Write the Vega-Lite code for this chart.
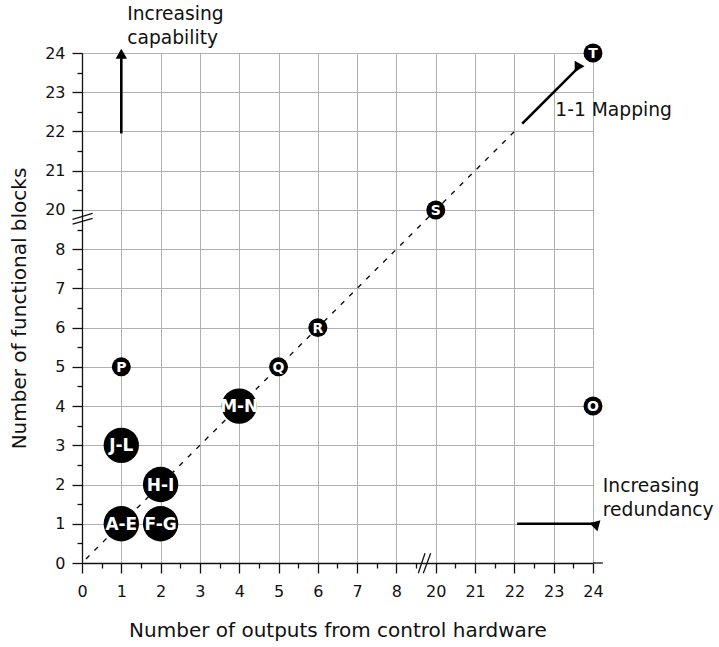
{
  "$schema": "https://vega.github.io/schema/vega-lite/v6.json",
  "width": 511,
  "height": 510,
  "autosize": {"type": "none"},
  "padding": {"left": 82, "top": 53, "right": 126, "bottom": 84},
  "background": "white",
  "config": {
    "view": {"stroke": null},
    "font": "DejaVu Sans",
    "axis": {
      "labelFont": "DejaVu Sans",
      "titleFont": "DejaVu Sans",
      "labelFontSize": 16,
      "titleFontSize": 20,
      "titleFontWeight": "normal",
      "labelColor": "#111",
      "titleColor": "#111",
      "domainColor": "#111",
      "domainWidth": 1.3,
      "tickColor": "#111",
      "tickWidth": 1.3,
      "gridColor": "#b0b0b0",
      "gridWidth": 1,
      "labelOverlap": false,
      "labelFlush": false,
      "labelBound": false
    }
  },
  "resolve": {"scale": {"size": "independent"}, "axis": {"x": "independent", "y": "independent"}},
  "datasets": {
    "points": [
      {"label": "A-E", "x": 1, "y": 1, "kind": "group"},
      {"label": "F-G", "x": 2, "y": 1, "kind": "group"},
      {"label": "H-I", "x": 2, "y": 2, "kind": "group"},
      {"label": "J-L", "x": 1, "y": 3, "kind": "group"},
      {"label": "M-N", "x": 4, "y": 4, "kind": "group"},
      {"label": "O", "x": 24, "y": 4, "kind": "single"},
      {"label": "P", "x": 1, "y": 5, "kind": "single"},
      {"label": "Q", "x": 5, "y": 5, "kind": "single"},
      {"label": "R", "x": 6, "y": 6, "kind": "single"},
      {"label": "S", "x": 20, "y": 20, "kind": "single"},
      {"label": "T", "x": 24, "y": 24, "kind": "single"}
    ],
    "diagonal": [
      {"x": 0.1, "y": 0.1, "x2": 22, "y2": 22}
    ],
    "arrows": [
      {"x": 1, "y": 21.95, "x2": 1, "y2": 23.9},
      {"x": 22.07, "y": 1, "x2": 24.0, "y2": 1},
      {"x": 22.2, "y": 22.2, "x2": 23.6, "y2": 23.6}
    ],
    "heads": [
      {"x": 1, "y": 23.98, "dir": "up"},
      {"x": 24.1, "y": 1, "dir": "right"},
      {"x": 23.66, "y": 23.66, "dir": "diag"}
    ],
    "axisMarks": [
      {"x": 24, "y": 0, "x2": 24.25, "y2": 0},
      {"x": 14.66, "y": -0.263, "x2": 16.71, "y2": 0.247},
      {"x": 16.19, "y": -0.263, "x2": 18.45, "y2": 0.247},
      {"x": -0.24, "y": 17.13, "x2": 0.27, "y2": 18.97},
      {"x": -0.24, "y": 15.69, "x2": 0.27, "y2": 17.44}
    ],
    "notes": [
      {"x": 1.15, "y": 24.84, "text": "Increasing\ncapability"},
      {"x": 23.04, "y": 22.39, "text": "1-1 Mapping"},
      {"x": 24.25, "y": 1.81, "text": "Increasing\nredundancy"}
    ]
  },
  "layer": [
    {
      "data": {"name": "diagonal"},
      "mark": {"type": "rule", "color": "#111", "strokeWidth": 1.4, "strokeDash": [5, 7]},
      "encoding": {
        "x": {
          "field": "x", "type": "quantitative",
          "scale": {"domain": [0, 8, 20, 24], "range": [0, 314.46, 353.77, 511], "nice": false, "zero": false},
          "axis": {
            "title": "Number of outputs from control hardware",
            "orient": "bottom",
            "values": [0, 1, 2, 3, 4, 5, 6, 7, 8, 20, 21, 22, 23, 24],
            "format": "d",
            "tickSize": 10,
            "grid": true,
            "labelOverlap": false,
            "labelFlush": false,
            "labelPadding": 10,
            "titlePadding": 21
          }
        },
        "y": {
          "field": "y", "type": "quantitative",
          "scale": {"domain": [0, 8, 20, 24], "range": [510, 196.15, 156.92, 0], "nice": false, "zero": false},
          "axis": {
            "title": "Number of functional blocks",
            "orient": "left",
            "values": [0, 1, 2, 3, 4, 5, 6, 7, 8, 20, 21, 22, 23, 24],
            "format": "d",
            "tickSize": 10,
            "grid": true,
            "labelOverlap": false,
            "labelPadding": 7,
            "titlePadding": 15
          }
        },
        "x2": {"field": "x2"},
        "y2": {"field": "y2"}
      }
    },
    {
      "data": {"name": "axisMarks"},
      "mark": {"type": "rule", "color": "#111", "strokeWidth": 1.3},
      "encoding": {
        "x": {
          "field": "x", "type": "quantitative",
          "axis": {"orient": "bottom", "values": [0.5, 1.5, 2.5, 3.5, 4.5, 5.5, 6.5, 7.5, 14, 20.5, 21.5, 22.5, 23.5], "labels": false, "domain": false, "grid": false, "title": null, "tickSize": 5}
        },
        "y": {
          "field": "y", "type": "quantitative",
          "axis": {"orient": "left", "values": [0.5, 1.5, 2.5, 3.5, 4.5, 5.5, 6.5, 7.5, 14, 20.5, 21.5, 22.5, 23.5], "labels": false, "domain": false, "grid": false, "title": null, "tickSize": 5}
        },
        "x2": {"field": "x2"},
        "y2": {"field": "y2"}
      }
    },
    {
      "data": {"name": "arrows"},
      "mark": {"type": "rule", "color": "#000", "strokeWidth": 2.6},
      "encoding": {
        "x": {"field": "x", "type": "quantitative", "axis": null},
        "y": {"field": "y", "type": "quantitative", "axis": null},
        "x2": {"field": "x2"},
        "y2": {"field": "y2"}
      }
    },
    {
      "data": {"name": "heads"},
      "mark": {"type": "point", "shape": "triangle-up", "filled": true, "color": "#000", "size": 130, "opacity": 1},
      "encoding": {
        "x": {"field": "x", "type": "quantitative", "axis": null},
        "y": {"field": "y", "type": "quantitative", "axis": null},
        "angle": {"field": "dir", "type": "nominal", "scale": {"domain": ["up", "right", "diag"], "range": [0, 90, 45]}, "legend": null}
      }
    },
    {
      "data": {"name": "points"},
      "mark": {"type": "circle", "color": "#000", "opacity": 1},
      "encoding": {
        "x": {"field": "x", "type": "quantitative", "axis": null},
        "y": {"field": "y", "type": "quantitative", "axis": null},
        "size": {"field": "kind", "type": "nominal", "scale": {"domain": ["single", "group"], "range": [360, 1250]}, "legend": null}
      }
    },
    {
      "data": {"name": "points"},
      "mark": {"type": "text", "color": "white", "fontWeight": "bold", "font": "DejaVu Sans", "baseline": "middle", "align": "center", "dy": 1},
      "encoding": {
        "x": {"field": "x", "type": "quantitative", "axis": null},
        "y": {"field": "y", "type": "quantitative", "axis": null},
        "text": {"field": "label"},
        "size": {"field": "kind", "type": "nominal", "scale": {"domain": ["single", "group"], "range": [14, 17]}, "legend": null}
      }
    },
    {
      "data": {"name": "notes"},
      "mark": {"type": "text", "color": "#111", "font": "DejaVu Sans", "fontSize": 18.7, "align": "left", "baseline": "alphabetic", "lineBreak": "\n", "lineHeight": 24},
      "encoding": {
        "x": {"field": "x", "type": "quantitative", "axis": null},
        "y": {"field": "y", "type": "quantitative", "axis": null},
        "text": {"field": "text"}
      }
    }
  ]
}
